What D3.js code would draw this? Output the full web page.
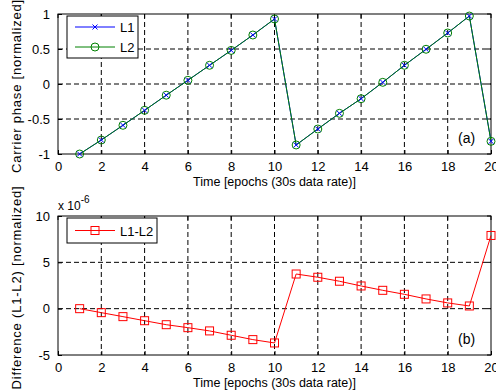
<!DOCTYPE html>
<html>
<head>
<meta charset="utf-8">
<script src="https://cdn.jsdelivr.net/npm/d3@7"></script>
<style>
  body { margin: 0; background: #fff; }
  text { font-family: "Liberation Sans", Arial, sans-serif; }
</style>
</head>
<body>
<svg id="chart" width="496" height="390"></svg>
<script>
const epochs = [1, 2, 3, 4, 5, 6, 7, 8, 9, 10, 11, 12, 13, 14, 15, 16, 17, 18, 19, 20];
const phaseL1 = [-1, -0.8, -0.59, -0.376, -0.16, 0.053, 0.267, 0.48, 0.7, 0.929,
  -0.871, -0.643, -0.419, -0.21, 0.024, 0.267, 0.496, 0.729, 0.971, -0.819];
const phaseL2 = [-1, -0.8, -0.59, -0.376, -0.16, 0.053, 0.267, 0.48, 0.7, 0.929,
  -0.871, -0.643, -0.419, -0.21, 0.024, 0.267, 0.496, 0.729, 0.971, -0.819];
// difference in units of 1e-6
const diffL1L2 = [0, -0.43, -0.86, -1.3, -1.73, -2.05, -2.4, -2.87, -3.34, -3.7,
  3.74, 3.39, 2.96, 2.45, 1.98, 1.55, 1.05, 0.62, 0.29, 7.9];
const xTicks = [0, 2, 4, 6, 8, 10, 12, 14, 16, 18, 20];
const yTicksTop = [-1, -0.5, 0, 0.5, 1];
const yTicksBottom = [-5, 0, 5, 10];

const svg = d3.select("#chart");
const left = 58, right = 491;

const x = d3.scaleLinear().domain([0, 20]).range([left, right]);

function panel(top, bottom, yDomain, yTicks, yLabel, tag) {
  const y = d3.scaleLinear().domain(yDomain).range([bottom, top]);
  const g = svg.append("g");

  // grid
  g.selectAll(".vgrid").data(xTicks.filter(t => t > 0 && t < 20)).enter()
    .append("line")
    .attr("x1", d => x(d)).attr("x2", d => x(d))
    .attr("y1", top).attr("y2", bottom)
    .attr("stroke", "black").attr("stroke-width", 1)
    .attr("stroke-dasharray", "5,3");
  g.selectAll(".hgrid").data(yTicks.filter(t => t > yDomain[0] && t < yDomain[1])).enter()
    .append("line")
    .attr("x1", left).attr("x2", right)
    .attr("y1", d => y(d)).attr("y2", d => y(d))
    .attr("stroke", "black").attr("stroke-width", 1)
    .attr("stroke-dasharray", "5,3");

  // axes (ticks inside)
  const xa = g.append("g").attr("transform", `translate(0,${bottom})`)
    .call(d3.axisBottom(x).tickValues(xTicks).tickSize(-4).tickPadding(8).tickFormat(d3.format("d")));
  const ya = g.append("g").attr("transform", `translate(${left},0)`)
    .call(d3.axisLeft(y).tickValues(yTicks).tickSize(-4).tickPadding(8).tickFormat(d => String(d)));
  [xa, ya].forEach(a => {
    a.select(".domain").remove();
    a.selectAll("text").attr("font-size", 13).attr("fill", "black")
      .style("font-family", '"Liberation Sans", Arial, sans-serif');
  });
  // top/right ticks
  g.selectAll(".tt").data(xTicks).enter().append("line")
    .attr("x1", d => x(d)).attr("x2", d => x(d))
    .attr("y1", top).attr("y2", top + 4).attr("stroke", "black");
  g.selectAll(".rt").data(yTicks).enter().append("line")
    .attr("x1", right).attr("x2", right - 4)
    .attr("y1", d => y(d)).attr("y2", d => y(d)).attr("stroke", "black");

  g.append("rect").attr("x", left).attr("y", top)
    .attr("width", right - left).attr("height", bottom - top)
    .attr("fill", "none").attr("stroke", "black").attr("stroke-width", 1);

  g.append("text").attr("x", (left + right) / 2).attr("y", bottom + 32)
    .attr("text-anchor", "middle").attr("font-size", 12.5)
    .text("Time [epochs (30s data rate)]");
  g.append("text")
    .attr("transform", `translate(21,${(top + bottom) / 2 + 2}) rotate(-90)`)
    .attr("text-anchor", "middle").attr("font-size", 13)
    .attr("letter-spacing", 0.8)
    .text(yLabel);
  g.append("text").attr("x", 458).attr("y", bottom - 11)
    .attr("font-size", 14).text(tag);
  return { g, y };
}

// ---------- panel (a)
const a = panel(14, 154, [-1, 1], yTicksTop, "Carrier phase [normalized]", "(a)");
const lineA = d3.line().x((d, i) => x(epochs[i])).y(d => a.y(d));

a.g.append("path").datum(phaseL1).attr("d", lineA)
  .attr("fill", "none").attr("stroke", "blue").attr("stroke-width", 1);
a.g.append("path").datum(phaseL2).attr("d", lineA)
  .attr("fill", "none").attr("stroke", "#008000").attr("stroke-width", 1);

const xMark = (cx, cy, r) => `M${cx - r},${cy - r}L${cx + r},${cy + r}M${cx - r},${cy + r}L${cx + r},${cy - r}`;

a.g.selectAll(".c2").data(phaseL2).enter().append("circle")
  .attr("cx", (d, i) => x(epochs[i])).attr("cy", d => a.y(d)).attr("r", 4)
  .attr("fill", "none").attr("stroke", "#008000").attr("stroke-width", 1);
a.g.selectAll(".x1").data(phaseL1).enter().append("path")
  .attr("d", (d, i) => xMark(x(epochs[i]), a.y(d), 2.5))
  .attr("stroke", "blue").attr("stroke-width", 1);

// legend (a)
const legA = a.g.append("g");
legA.append("rect").attr("x", 67).attr("y", 16).attr("width", 71).attr("height", 42)
  .attr("fill", "white").attr("stroke", "black");
legA.append("line").attr("x1", 75).attr("x2", 115).attr("y1", 27).attr("y2", 27)
  .attr("stroke", "blue");
legA.append("path").attr("d", xMark(95, 27, 2.5)).attr("stroke", "blue");
legA.append("text").attr("x", 120).attr("y", 32).attr("font-size", 13).text("L1");
legA.append("line").attr("x1", 75).attr("x2", 115).attr("y1", 47).attr("y2", 47)
  .attr("stroke", "#008000");
legA.append("circle").attr("cx", 95).attr("cy", 47).attr("r", 4)
  .attr("fill", "none").attr("stroke", "#008000");
legA.append("text").attr("x", 120).attr("y", 52).attr("font-size", 13).text("L2");

// ---------- panel (b)
const b = panel(216, 355, [-5, 10], yTicksBottom, "Difference (L1-L2) [normalized]", "(b)");
const lineB = d3.line().x((d, i) => x(epochs[i])).y(d => b.y(d));
b.g.append("path").datum(diffL1L2).attr("d", lineB)
  .attr("fill", "none").attr("stroke", "red").attr("stroke-width", 1);
b.g.selectAll(".sq").data(diffL1L2).enter().append("rect")
  .attr("x", (d, i) => x(epochs[i]) - 4).attr("y", d => b.y(d) - 4)
  .attr("width", 8).attr("height", 8)
  .attr("fill", "none").attr("stroke", "red").attr("stroke-width", 1);

// exponent label
const ex = b.g.append("text").attr("x", 58).attr("y", 210).attr("font-size", 12);
ex.append("tspan").text("x 10");
ex.append("tspan").attr("dy", -7).attr("font-size", 10).text("-6");

// legend (b)
const legB = b.g.append("g");
legB.append("rect").attr("x", 67).attr("y", 218).attr("width", 90).attr("height", 25)
  .attr("fill", "white").attr("stroke", "black");
legB.append("line").attr("x1", 75).attr("x2", 115).attr("y1", 230.5).attr("y2", 230.5)
  .attr("stroke", "red");
legB.append("rect").attr("x", 91).attr("y", 226.5).attr("width", 8).attr("height", 8)
  .attr("fill", "none").attr("stroke", "red");
legB.append("text").attr("x", 120).attr("y", 235.5).attr("font-size", 13).text("L1-L2");
</script>
</body>
</html>
